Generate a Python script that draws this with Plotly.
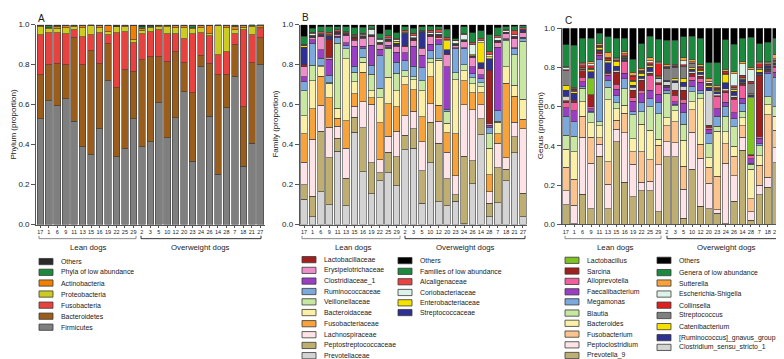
import plotly.graph_objects as go

W, H = 784, 359

# ---------------- data ----------------
dogs = ["17", "1", "6", "9", "11", "13", "15", "16", "19", "22", "25", "29",
        "2", "3", "5", "10", "12", "20", "23", "24", "26", "14", "28", "7", "18", "21", "27"]

# Panel A: phylum
firmicutes = [.53,.62,.595,.63,.517,.39,.35,.48,.72,.34,.38,.53,.39,.413,.61,.434,.535,.665,.317,.79,.541,.252,.585,.74,.291,.406,.80]
bacteroidetes = [.22,.18,.21,.17,.418,.41,.52,.325,.185,.345,.395,.235,.435,.427,.23,.381,.33,.145,.343,.055,.264,.498,.165,.16,.299,.404,.135]
fusobacteria = [.20,.16,.155,.155,.04,.14,.08,.155,.045,.275,.19,.145,.13,.125,.135,.14,.09,.12,.295,.115,.14,.10,.115,.055,.385,.14,.045]
proteobacteria = [.04,.02,.02,.03,.015,.045,.045,.025,.015,.03,.025,.015,.015,.02,.015,.035,.03,.055,.025,.025,.01,.145,.12,.02,.01,.04,.005]
actinobacteria = [.005,.005,.01,.01,.005,.01,.003,.01,.03,.003,.007,.07,.01,.005,.005,.005,.01,.01,.005,.01,.04,.003,.01,.015,.01,.005,.013]
phyla_low = [.002,.01,.005,.002,.002,.002,.001,.002,.002,.002,.001,.002,.01,.005,.003,.002,.002,.002,.01,.002,.002,.001,.003,.007,.003,.004,.001]
others_a = [.003,.005,.005,.003,.003,.003,.001,.003,.003,.005,.002,.003,.01,.005,.002,.003,.003,.003,.005,.003,.003,.001,.002,.003,.002,.001,.001]

# Panel B: family
prevotellaceae = [.127,.04,.163,.098,.366,.093,.463,.265,.154,.22,.26,.195,.374,.382,.106,.309,.114,.094,.117,.003,.205,.45,.04,.11,.22,.358,.04]
peptostrep = [.071,.101,.305,.235,.065,.138,.074,.22,.155,.04,.101,.143,.073,.098,.162,.203,.293,.134,.033,.338,.115,.08,.066,.175,.056,.081,.117]
lachnospiraceae = [.114,.285,.13,.155,.062,.151,.056,.13,.293,.065,.081,.13,.098,.086,.147,.093,.11,.133,.094,.259,.255,.07,.057,.122,.057,.073,.323]
fusobacteriaceae = [.143,.154,.145,.146,.04,.138,.062,.146,.032,.184,.163,.121,.154,.109,.125,.135,.081,.098,.211,.12,.085,.06,.086,.048,.374,.13,.048]
bacteroidaceae = [.09,.14,.046,.073,.049,.309,.06,.052,.036,.125,.132,.081,.04,.049,.13,.07,.223,.048,.27,.05,.045,.03,.133,.057,.082,.054,.098]
veillonellaceae = [.125,.077,.005,.003,.325,.05,.046,.024,.081,.049,.144,.086,.03,.016,.049,.019,.008,.059,.035,.03,.03,.02,.073,.005,.131,.154,.292]
ruminococcaceae = [.045,.109,.039,.038,.028,.015,.032,.045,.046,.163,.005,.057,.05,.053,.065,.041,.073,.011,.12,.08,.02,.02,.033,.052,.005,.03,.015]
clostridiaceae = [.025,.018,.041,.08,.007,.015,.10,.01,.101,.032,.01,.049,.04,.098,.062,.032,.022,.212,.005,.005,.035,.02,.01,.317,.005,.005,.005]
erysipelotrichaceae = [.049,.01,.065,.01,.01,.035,.03,.04,.042,.024,.02,.029,.03,.028,.035,.038,.01,.06,.01,.03,.045,.03,.006,.024,.025,.045,.022]
lactobacillaceae = [.011,.004,.005,.09,.005,.005,.01,.005,.005,.004,.005,.005,.005,.008,.004,.005,.01,.005,.003,.003,.005,.005,.268,.005,.003,.005,.003]
streptococcaceae = [.086,.005,.005,.015,.005,.005,.005,.005,.003,.003,.005,.01,.06,.005,.076,.005,.005,.02,.005,.005,.005,.025,.058,.005,.003,.005,.01]
enterobacteriaceae = [.008,.003,.003,.003,.002,.003,.003,.003,.002,.003,.004,.012,.003,.003,.003,.003,.003,.045,.005,.002,.005,.10,.01,.003,.002,.003,.002]
coriobacteriaceae = [.004,.01,.005,.004,.003,.003,.004,.005,.025,.015,.005,.007,.005,.01,.003,.007,.01,.005,.012,.025,.05,.01,.01,.015,.007,.007,.003]
alcaligenaceae = [.004,.005,.008,.01,.008,.005,.005,.008,.005,.003,.01,.005,.008,.012,.005,.012,.013,.012,.003,.005,.01,.01,.015,.007,.005,.02,.007]
families_low = [.04,.02,.025,.03,.015,.025,.035,.03,.015,.025,.03,.03,.02,.025,.018,.02,.015,.04,.007,.035,.05,.04,.085,.04,.015,.022,.01]
others_b = [.058,.019,.01,.01,.01,.01,.015,.012,.005,.045,.025,.04,.01,.018,.01,.008,.01,.024,.07,.01,.04,.03,.05,.015,.01,.008,.005]

# Panel C: genus
prevotella_9 = [.10,.003,.154,.08,.348,.08,.42,.215,.14,.17,.17,.063,.345,.345,.03,.28,.092,.08,.055,.002,.118,.378,.02,.15,.19,.315,.013]
peptoclostridium = [.071,.093,.29,.232,.06,.124,.066,.253,.165,.045,.05,.24,.075,.07,.149,.19,.245,.13,.02,.31,.13,.066,.045,.05,.05,.075,.091]
fusobacterium = [.121,.133,.108,.132,.033,.116,.045,.099,.065,.155,.11,.10,.082,.107,.116,.115,.07,.08,.17,.10,.10,.058,.065,.10,.32,.09,.05]
bacteroides = [.091,.14,.072,.075,.061,.315,.059,.041,.066,.14,.15,.03,.042,.058,.133,.04,.233,.05,.23,.06,.05,.042,.15,.05,.05,.07,.091]
blautia = [.07,.08,.069,.05,.022,.065,.03,.084,.124,.065,.12,.13,.124,.025,.082,.05,.025,.07,.025,.08,.10,.033,.025,.05,.04,.05,.233]
megamonas = [.099,.075,.008,.008,.318,.035,.035,.05,.017,.045,.04,.06,.017,.005,.059,.03,.02,.055,.05,.05,.04,.041,.005,.01,.12,.15,.282]
faecalibacterium = [.042,.055,.025,.013,.02,.025,.035,.028,.05,.045,.045,.04,.015,.015,.049,.03,.04,.02,.04,.02,.03,.025,.025,.03,.01,.025,.02]
alloprevotella = [.025,.04,.024,.01,.008,.01,.025,.063,.018,.02,.075,.05,.005,.033,.02,.02,.02,.01,.06,.05,.07,.067,.015,.01,.005,.025,.02]
sarcina = [.011,.01,.034,.06,.01,.005,.06,.005,.04,.05,.01,.01,.005,.025,.047,.015,.01,.007,.005,.01,.01,.01,.005,.31,.005,.01,.005]
lactobacillus = [0,0,0,.083,0,0,0,0,0,0,0,0,0,0,0,0,0,.003,0,0,0,0,.29,0,0,0,0]
clostridium_ss1 = [.022,.005,.004,.005,.003,.004,.01,.005,.015,.01,.01,.02,.016,.04,.02,.01,.01,.175,.01,.01,.01,.005,.005,.005,.005,.005,.005]
gnavus_group = [.033,.035,.005,.03,.007,.045,.02,.005,.01,.01,.02,.005,.005,.01,.02,.01,.01,.02,.01,.03,.02,.01,.01,.01,.01,.01,.02]
catenibacterium = [.025,.008,.005,.012,.012,.01,.025,.005,.02,.015,.01,.005,.005,.01,.02,.01,.01,.01,.01,.04,.01,.005,.005,.015,.005,.005,.005]
streptococcus = [.074,.005,.004,.005,.003,.004,.005,.005,.005,.005,.005,.005,.06,.058,.06,.02,.005,.005,.005,.005,.01,.01,.055,.01,.005,.005,.005]
collinsella = [.005,.007,.012,.015,.005,.01,.005,.008,.02,.005,.01,.06,.005,.005,.01,.005,.01,.005,.005,.01,.01,.01,.01,.02,.005,.005,.015]
escherichia = [.011,.005,.006,.01,.003,.005,.005,.005,.005,.005,.01,.005,.005,.005,.02,.005,.005,.01,.005,.005,.06,.06,.06,.005,.005,.005,.005]
sutterella = [.005,.005,.006,.01,.01,.025,.005,.012,.016,.01,.015,.01,.01,.005,.015,.01,.01,.015,.01,.01,.01,.01,.01,.005,.005,.02,.005]
genera_low = [.112,.215,.124,.12,.052,.08,.10,.067,.066,.125,.11,.11,.124,.124,.108,.12,.135,.08,.115,.15,.14,.12,.155,.09,.10,.085,.115]
others_c = [.083,.086,.05,.05,.025,.042,.05,.05,.158,.08,.04,.057,.06,.06,.042,.04,.05,.175,.175,.058,.082,.05,.045,.08,.07,.05,.02]

# series tables (bottom -> top)
panel_a = [("Firmicutes", firmicutes, "#7f7f7f"), ("Bacteroidetes", bacteroidetes, "#9a5d1c"),
           ("Fusobacteria", fusobacteria, "#e8423f"), ("Proteobacteria", proteobacteria, "#cccb22"),
           ("Actinobacteria", actinobacteria, "#f17f00"), ("Phyla of low abundance", phyla_low, "#1b8a3c"),
           ("Others", others_a, "#2a2a2a")]
panel_b = [("Prevotellaceae", prevotellaceae, "#d3d3d3"), ("Peptostreptococcaceae", peptostrep, "#bfae72"),
           ("Lachnospiraceae", lachnospiraceae, "#fde3e6"), ("Fusobacteriaceae", fusobacteriaceae, "#f7a23a"),
           ("Bacteroidaceae", bacteroidaceae, "#fbefa6"), ("Veillonellaceae", veillonellaceae, "#c8e8a2"),
           ("Ruminococcaceae", ruminococcaceae, "#7ca8dc"), ("Clostridiaceae_1", clostridiaceae, "#9a3fc4"),
           ("Erysipelotrichaceae", erysipelotrichaceae, "#ef8fc9"), ("Lactobacillaceae", lactobacillaceae, "#a11f1f"),
           ("Streptococcaceae", streptococcaceae, "#2e3192"), ("Enterobacteriaceae", enterobacteriaceae, "#f5e000"),
           ("Coriobacteriaceae", coriobacteriaceae, "#dcf3ea"), ("Alcaligenaceae", alcaligenaceae, "#e84242"),
           ("Families of low abundance", families_low, "#1b8a3e"), ("Others", others_b, "#000000")]
panel_c = [("Prevotella_9", prevotella_9, "#bfae72"), ("Peptoclostridium", peptoclostridium, "#fde3e6"),
           ("Fusobacterium", fusobacterium, "#fbc38e"), ("Bacteroides", bacteroides, "#fbf0a8"),
           ("Blautia", blautia, "#c8e8a2"), ("Megamonas", megamonas, "#7ca8dc"),
           ("Faecalibacterium", faecalibacterium, "#9a3fc4"), ("Alloprevotella", alloprevotella, "#f0609e"),
           ("Sarcina", sarcina, "#a11f1f"), ("Lactobacillus", lactobacillus, "#7dc420"),
           ("Clostridium_sensu_stricto_1", clostridium_ss1, "#d3d3d3"), ("[Ruminococcus]_gnavus_group", gnavus_group, "#2e3192"),
           ("Catenibacterium", catenibacterium, "#f5e000"), ("Streptococcus", streptococcus, "#808080"),
           ("Collinsella", collinsella, "#e02020"), ("Escherichia-Shigella", escherichia, "#dcf3ea"),
           ("Sutterella", sutterella, "#f7a23a"), ("Genera of low abundance", genera_low, "#1b8a3e"),
           ("Others", others_c, "#000000")]

# ---------------- layout helpers ----------------
def px(x):
    return x / W

def py(y):
    return 1 - y / H

FONT = "Liberation Sans, Arial, sans-serif"
TXT = "#1a1a1a"

fig = go.Figure()
panels = [
    dict(series=panel_a, xa="x", ya="y", xdom=(28.1, 256.5), ytop=13.0, ybot=218.0,
         title="Phylum (proportion)", tx=6, label="A", lx=28, ly=7),
    dict(series=panel_b, xa="x2", ya="y2", xdom=(291.8, 519.2), ytop=13.0, ybot=218.0,
         title="Family (proportion)", tx=268, label="B", lx=292, ly=6),
    dict(series=panel_c, xa="x3", ya="y3", xdom=(553.6, 780.8), ytop=16.7, ybot=217.7,
         title="Genus (proportion)", tx=532, label="C", lx=555, ly=9),
]

annotations = []
shapes = []
for i, p in enumerate(panels):
    for name, vals, col in p["series"]:
        fig.add_trace(go.Bar(x=dogs, y=vals, name=name, marker_color=col,
                             marker_line_color="#3a3a3a", marker_line_width=0.6,
                             xaxis=p["xa"], yaxis=p["ya"], showlegend=False,
                             hovertemplate=name + " %{y}<extra></extra>"))
    sfx = "" if i == 0 else str(i + 1)
    fig.layout["xaxis" + sfx] = dict(domain=[px(p["xdom"][0]), px(p["xdom"][1])], anchor=p["ya"],
                                     type="category", categoryorder="array", categoryarray=dogs,
                                     showline=True, linecolor="#555", linewidth=1,
                                     ticks="outside", ticklen=2, tickcolor="#555", tickangle=0,
                                     tickfont=dict(size=5.5, family=FONT, color=TXT),
                                     showgrid=False, zeroline=False, fixedrange=True)
    fig.layout["yaxis" + sfx] = dict(domain=[py(p["ybot"]), py(p["ytop"])], anchor=p["xa"],
                                     range=[0, 1.0], tickvals=[0, .2, .4, .6, .8, 1.0],
                                     tickformat=".1f", showline=True, linecolor="#555", linewidth=1,
                                     ticks="outside", ticklen=4, tickcolor="#555",
                                     tickfont=dict(size=8, family=FONT, color=TXT),
                                     showgrid=False, zeroline=False, fixedrange=True)
    annotations.append(dict(text=p["title"], x=px(p["tx"]), y=py((p["ytop"] + p["ybot"]) / 2),
                            xref="paper", yref="paper", textangle=-90, showarrow=False,
                            font=dict(size=8, family=FONT, color=TXT), xanchor="center", yanchor="middle"))
    annotations.append(dict(text=p["label"], x=px(p["lx"]), y=py(p["ly"]), xref="paper", yref="paper",
                            showarrow=False, font=dict(size=10, family=FONT, color=TXT),
                            xanchor="left", yanchor="middle"))

# group brackets
brackets = [
    (31, 128, 80, 133, 253, 192),
    (294, 392, 345, 397, 517, 457),
    (557, 653, 607, 659, 777, 718),
]
for (l0, l1, lc, o0, o1, oc) in brackets:
    for (a, b, c, col, txt) in [(l0, l1, lc, "#8a8a8a", "Lean dogs"), (o0, o1, oc, "#333333", "Overweight dogs")]:
        shapes.append(dict(type="path", xref="paper", yref="paper",
                           path=f"M {px(a)},{py(229.5)} L {px(a)},{py(232.5)} L {px(b)},{py(232.5)} L {px(b)},{py(229.5)}",
                           line=dict(color=col, width=1)))
        annotations.append(dict(text=txt, x=px(c), y=py(242), xref="paper", yref="paper", showarrow=False,
                                font=dict(size=7.8, family=FONT, color=TXT), xanchor="center", yanchor="middle"))

# manual legends
def legend_item(x0, yc, label, col):
    shapes.append(dict(type="rect", xref="paper", yref="paper",
                       x0=px(x0), x1=px(x0 + 14), y0=py(yc + 3.2), y1=py(yc - 3.2),
                       fillcolor=col, line=dict(color="#3a3a3a", width=0.8)))
    annotations.append(dict(text=label, x=px(x0 + 20), y=py(yc), xref="paper", yref="paper",
                            showarrow=False, xanchor="left", yanchor="middle",
                            font=dict(size=6.9, family=FONT, color=TXT)))

cols_a = {n: c for n, _, c in panel_a}
for name, yc in zip(["Others", "Phyla of low abundance", "Actinobacteria", "Proteobacteria",
                     "Fusobacteria", "Bacteroidetes", "Firmicutes"],
                    [256, 267, 278, 289.3, 300.7, 312, 323.3]):
    legend_item(31, yc, name, cols_a[name])

cols_b = {n: c for n, _, c in panel_b}
for name, yc in zip(["Lactobacillaceae", "Erysipelotrichaceae", "Clostridiaceae_1", "Ruminococcaceae",
                     "Veillonellaceae", "Bacteroidaceae", "Fusobacteriaceae", "Lachnospiraceae",
                     "Peptostreptococcaceae", "Prevotellaceae"],
                    [254, 265, 276, 286.7, 297.3, 308.3, 319.7, 331, 342, 352.5]):
    legend_item(294, yc, name, cols_b[name])
for name, yc in zip(["Others", "Families of low abundance", "Alcaligenaceae", "Coriobacteriaceae",
                     "Enterobacteriaceae", "Streptococcaceae"],
                    [255, 266, 276.7, 287.7, 298.3, 308.3]):
    legend_item(390, yc, name, cols_b[name])

cols_c = {n: c for n, _, c in panel_c}
for name, yc in zip(["Lactobacillus", "Sarcina", "Alloprevotella", "Faecalibacterium", "Megamonas",
                     "Blautia", "Bacteroides", "Fusobacterium", "Peptoclostridium", "Prevotella_9"],
                    [254.7, 265.7, 276.3, 287, 297.3, 308.8, 319.3, 330.4, 341.4, 352.3]):
    legend_item(557, yc, name, cols_c[name])
for name, yc in zip(["Others", "Genera of low abundance", "Sutterella", "Escherichia-Shigella",
                     "Collinsella", "Streptococcus", "Catenibacterium", "[Ruminococcus]_gnavus_group",
                     "Clostridium_sensu_stricto_1"],
                    [254.7, 267.3, 278, 289.3, 300.7, 311.3, 322.7, 334, 344]):
    legend_item(649, yc, name, cols_c[name])

fig.update_layout(width=W, height=H, margin=dict(l=0, r=0, t=0, b=0),
                  paper_bgcolor="white", plot_bgcolor="white",
                  barmode="stack", bargap=0.22, showlegend=False,
                  annotations=annotations, shapes=shapes,
                  font=dict(family=FONT, color=TXT))

fig.write_html("out.html")
